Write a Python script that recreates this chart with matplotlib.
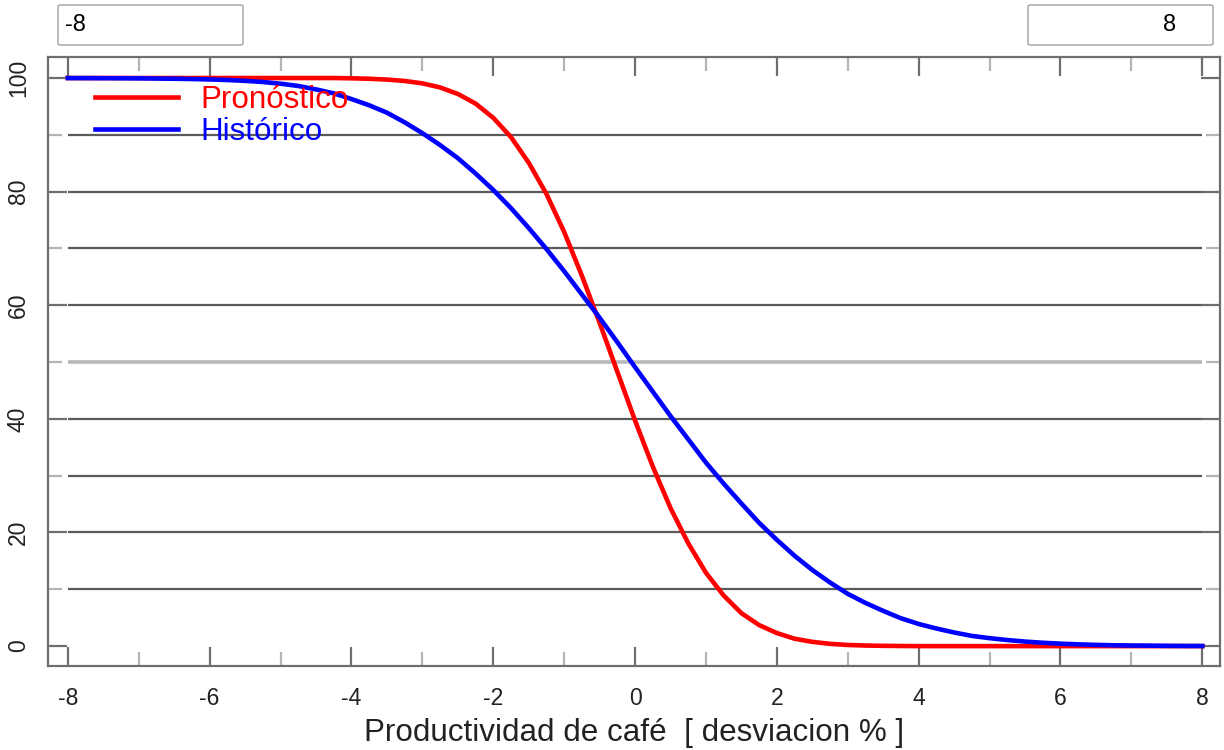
import numpy as np
import matplotlib.pyplot as plt
from matplotlib.patches import FancyBboxPatch

plt.rcParams['font.family'] = ['Liberation Sans', 'DejaVu Sans']
plt.rcParams['axes.unicode_minus'] = False

# desviacion de productividad (%)
x_vals = np.arange(-8, 8.01, 0.25)

# probabilidad de excedencia (%)
pronostico = [
    100.0, 100.0, 100.0, 100.0, 100.0, 100.0, 100.0, 100.0,
    100.0, 100.0, 100.0, 100.0, 100.0, 100.0, 100.0, 100.0,
    99.95, 99.87, 99.73, 99.48, 99.06, 98.34, 97.2, 95.5,
    93.0, 89.6, 85.1, 79.6, 72.9, 65.2, 56.9, 48.3,
    39.7, 31.6, 24.3, 18.1, 12.9, 8.9, 5.8, 3.7,
    2.3, 1.3, 0.75, 0.4, 0.2, 0.1, 0.05, 0.02,
    0.0, 0.0, 0.0, 0.0, 0.0, 0.0, 0.0, 0.0,
    0.0, 0.0, 0.0, 0.0, 0.0, 0.0, 0.0, 0.0,
    0.0,
]
historico = [
    99.99, 99.98, 99.97, 99.96, 99.94, 99.91, 99.87, 99.82,
    99.75, 99.65, 99.5, 99.3, 99.0, 98.6, 98.0, 97.3,
    96.3, 95.2, 93.9, 92.2, 90.3, 88.2, 85.9, 83.2,
    80.3, 77.1, 73.6, 69.9, 66.0, 61.9, 57.8, 53.5,
    49.1, 44.8, 40.5, 36.4, 32.3, 28.6, 25.1, 21.7,
    18.7, 15.9, 13.4, 11.2, 9.2, 7.6, 6.2, 4.9,
    3.9, 3.1, 2.4, 1.8, 1.4, 1.07, 0.8, 0.59,
    0.43, 0.31, 0.22, 0.15, 0.11, 0.08, 0.05, 0.03,
    0.02,
]

x_min, x_max = -8, 8
x_ticks = [-8, -6, -4, -2, 0, 2, 4, 6, 8]
y_ticks = [0, 20, 40, 60, 80, 100]
grid_levels = [10, 20, 30, 40, 60, 70, 80, 90]

fig = plt.figure(figsize=(12.24, 7.5), dpi=100)
ax = fig.add_axes([48 / 1224, 1 - 666 / 750, 1172 / 1224, 609 / 750])

frame_col = '#6e6e6e'

# lineas horizontales de referencia
ax.hlines(grid_levels, x_min, x_max, color='#5a5a5a', lw=1.6, zorder=1)
ax.hlines(50, x_min, x_max, color='#b8b8b8', lw=2.6, zorder=1)

ax.plot(x_vals, pronostico, color='#ff0000', lw=3.3, label='Pronóstico',
        zorder=3, solid_joinstyle='round')
ax.plot(x_vals, historico, color='#0000ff', lw=3.3, label='Histórico',
        zorder=4, solid_joinstyle='round')

ax.set_xlim(-8.28, 8.25)
ax.set_ylim(-3.5, 103.7)

for sp in ax.spines.values():
    sp.set_color(frame_col)
    sp.set_linewidth(1.6)

ax.set_xticks(x_ticks)
ax.set_xticks(np.arange(-7, 8, 2), minor=True)
ax.set_yticks(y_ticks)
ax.set_yticks([10, 30, 50, 70, 90], minor=True)
ax.tick_params(which='major', direction='in', length=14, width=1.6,
               color=frame_col, top=True, right=True, labelsize=16.5,
               pad=15, labelcolor='#222222')
ax.tick_params(which='minor', direction='in', length=10, width=1.6,
               color='#b5b5b5', top=True, right=True)
ax.tick_params(axis='y', labelrotation=90, pad=13)
for lbl in ax.get_yticklabels():
    lbl.set_verticalalignment('center')

ax.set_xlabel('Productividad de café  [ desviacion % ]', fontsize=22.6,
              color='#222222', labelpad=6)

leg = ax.legend(loc='upper left', bbox_to_anchor=(0.0294, 0.974),
                frameon=False, fontsize=22.6, handlelength=2.65,
                handletextpad=0.7, labelspacing=0.06,
                labelcolor='linecolor', borderaxespad=0)

# cajas de rango en la parte superior
for x0, txt, ha, tx in [(58, '-8', 'left', 65), (1028, '8', 'right', 1176)]:
    box = FancyBboxPatch((x0 / 1224, 1 - 45 / 750), 185 / 1224, 40 / 750,
                         boxstyle='round,pad=0,rounding_size=0.002',
                         transform=fig.transFigure, facecolor='white',
                         edgecolor='#a0a0a0', lw=1.0)
    fig.patches.append(box)
    fig.text(tx / 1224, 1 - 25 / 750, txt, ha=ha, va='center', fontsize=17,
             color='black')

fig.savefig('out.png', dpi=100)
